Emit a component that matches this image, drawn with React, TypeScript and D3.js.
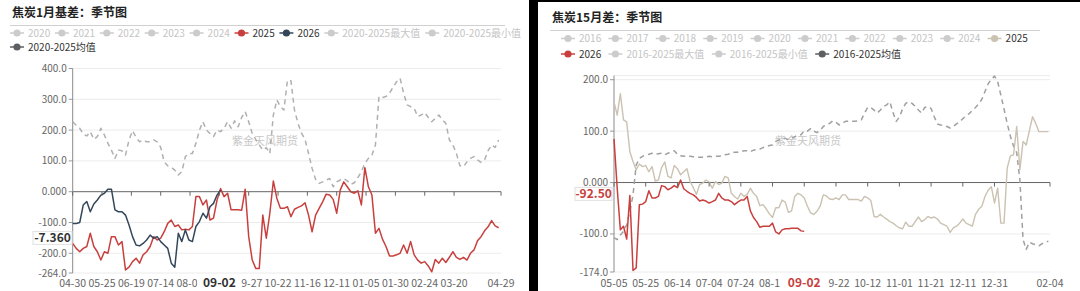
import React from 'react';
import * as d3 from 'd3';

// ---------------- DATA ----------------
// Left panel: 焦炭1月基差 (sampled every 3 days starting 04-30)
const leftStep = 3;
const left2025 = [
  -168, -184, -195, -184, -178, -135, -178, -195, -222, -195, -200, -146, -146, -173, -162, -254, -245, -227, -216, -232,
  -205, -195, -178, -146, -157, -151, -130, -103, -92, -113, -108, -124, -122, -124, -113, -16, -16, -43, -27, -92,
  -86, -27, 10, -16, -5, -59, -59, -59, -60, 8, -146, -222, -249, -249, -76, -151, -70, 35, -22, -54,
  -54, -49, -81, -57, -51, -46, -36, -76, -130, -76, -54, -33, -8, -11, -25, -70, 5, 32, 16, 0,
  -5, 3, -43, 78, 16, -11, -135, -119, -154, -178, -209, -209, -205, -200, -173, -200, -162, -205, -222, -232,
  -227, -241, -260, -220, -232, -216, -230, -213, -195, -213, -220, -213, -222, -200, -189, -159, -146, -127, -114, -94,
  -111, -117,
];
const left2026 = [
  -103, -103, -100, -43, -32, -65, -40, -27, -11, -5, 8, 8, -59, -65, -65, -76, -108, -146, -173, -176,
  -168, -157, -141, -151, -146, -162, -173, -184, -232, -245, -135, -162, -124, -157, -162, -113, -97, -70, -86, -49,
  -38, -11, 5,
];
const leftMean = [
  227, 216, 206, 187, 181, 195, 170, 179, 206, 184, 157, 135, 108, 135, 133, 119, 168, 198, 176, 162,
  168, 162, 162, 168, 162, 144, 97, 84, 79, 70, 54, 65, 114, 124, 124, 157, 200, 227, 200, 189,
  179, 200, 195, 206, 227, 206, 230, 211, 241, 260, 227, 189, 170, 152, 135, 143, 124, 249, 298, 276,
  265, 362, 360, 265, 222, 190, 170, 124, 76, 40, 27, 32, 38, 43, 16, 32, 38, 43, 35, 24,
  29, 46, 65, 92, 108, 119, 152, 309, 306, 309, 320, 339, 357, 368, 320, 282, 276, 271, 244, 249,
  257, 241, 227, 238, 249, 233, 222, 168, 152, 124, 84, 81, 97, 108, 114, 103, 95, 103, 133, 152,
  144, 168,
];
const leftTickDays = [0, 25, 50, 75, 100, 125, 150, 175, 200, 225, 250, 275, 300, 325, 365];
const leftTickLabels = ['04-30', '05-25', '06-19', '07-14', '08-08', '09-02', '09-27', '10-22', '11-16', '12-11', '01-05', '01-30', '02-24', '03-20', '04-29'];
const leftYTicks = [400, 300, 200, 100, 0, -100, -200, -264];
const leftYLabels = ['400.0', '300.0', '200.0', '100.0', '0.000', '-100.0', '-200.0', '-264.0'];
const leftDomain = [-264, 400];
const leftDays = 365;
const leftHighlightDay = 125;
const leftHighlightLabel = '09-02';
const leftPointerValue = -150;
const leftPointerLabel = '-7.360';
const leftLegendNames = ['2020', '2021', '2022', '2023', '2024', '2025', '2026', '2020-2025最大值', '2020-2025最小值', '2020-2025均值'];

// Right panel: 焦炭15月差 (sampled every 2 days starting 05-05)
const rightStep = 2;
const right2025 = [
  157, 131, 173, 122, 118, 60, 41, 25, 36, 31, 33, 21, 31, 3, 5, 29, 40, 12, 9, 33,
  27, 15, 21, 27, 2, -10, -23, -4, -1, 5, 1, -11, 2, -4, -1, 12, 9, -21, -27, -32,
  -21, -27, -23, -11, -21, -27, -45, -43, -51, -61, -68, -49, -49, -34, -38, -58, -55, -27, -21, -24,
  -30, -46, -59, -62, -56, -46, -24, -26, -32, -33, -30, -33, -24, -24, -33, -33, -33, -33, -36, -27,
  -30, -35, -66, -67, -62, -67, -71, -76, -79, -84, -88, -90, -77, -85, -85, -76, -67, -76, -72, -66,
  -69, -67, -71, -79, -82, -85, -97, -88, -85, -79, -71, -79, -82, -85, -62, -52, -46, -27, -15, -8,
  -40, -11, -79, -79, 28, 52, 54, 109, 25, 80, 73, 101, 128, 115, 99, 99, 99, 99,
];
const right2026 = [
  85, -10, -92, -85, -110, -25, -171, -166, -43, -42, -37, -16, -30, -30, -27, -6, -8, -14, -11, -6,
  -10, 5, -12, -17, -21, -24, -29, -36, -34, -36, -40, -37, -34, -21, -30, -34, -34, -37, -43, -38,
  -34, -34, -27, -55, -68, -76, -87, -85, -85, -85, -79, -96, -100, -92, -90, -90, -89, -89, -89, -94,
  -95,
];
const rightMean = [
  -107, -111, -102, -95, -82, -56, -24, 34, 47, 51, 54, 55, 57, 55, 56, 57, 54, 57, 59, 62,
  55, 52, 51, 52, 51, 50, 49, 49, 49, 50, 51, 50, 51, 51, 52, 54, 55, 57, 59, 59,
  60, 62, 62, 60, 63, 64, 65, 68, 70, 72, 73, 80, 83, 85, 86, 83, 86, 89, 93, 93,
  101, 100, 105, 100, 97, 101, 109, 113, 115, 120, 117, 112, 115, 119, 119, 119, 119, 120, 122, 135,
  146, 146, 141, 135, 141, 148, 151, 157, 136, 119, 127, 143, 154, 157, 154, 148, 141, 135, 146, 148,
  144, 128, 114, 112, 111, 109, 106, 109, 114, 118, 124, 130, 134, 140, 146, 153, 162, 177, 192, 201,
  207, 196, 170, 143, 115, 90, 71, 58, 5, -111, -130, -116, -119, -121, -123, -119, -116, -114,
];
const rightTickDays = [0, 20, 40, 60, 80, 100, 120, 140, 160, 180, 200, 220, 240, 275];
const rightTickLabels = ['05-05', '05-25', '06-14', '07-04', '07-24', '08-13', '09-02', '09-22', '10-12', '11-01', '11-21', '12-11', '12-31', '02-04'];
const rightYTicks = [208, 200, 100, 0, -100, -174];
const rightYLabels = ['', '200.0', '100.0', '0.000', '-100.0', '-174.0'];
const rightDomain = [-174, 208];
const rightDays = 275;
const rightHighlightDay = 120;
const rightHighlightLabel = '09-02';
const rightPointerValue = -22;
const rightPointerLabel = '-92.50';
const rightLegendNames = ['2016', '2017', '2018', '2019', '2020', '2021', '2022', '2023', '2024', '2025', '2026', '2016-2025最大值', '2016-2025最小值', '2016-2025均值'];

// ---------------- STYLE ----------------
const RED = '#c8403e';
const NAVY = '#34475a';
const TAN = '#cbc2b1';
const GREY = '#cccccc';
const MEANDARK = '#5d5f63';
const FONT = '"Noto Sans CJK SC", "Noto Sans", sans-serif';

const textW = (s: string, size: number) => {
  let w = 0;
  for (const ch of s) {
    if (/[0-9]/.test(ch)) w += size * 0.56;
    else if (ch === '-') w += size * 0.36;
    else if (ch === '.') w += size * 0.28;
    else w += size;
  }
  return w;
};

type Series = { values: number[]; color: string; dashed?: boolean; width?: number };

type PanelProps = {
  title: string;
  titleX: number;
  titleY: number;
  sepY: number;
  sepX1: number;
  legendRows: { names: string[]; colors: string[]; active: boolean[] }[];
  legendX: number;
  legendYs: number[];
  legendGap: number;
  x0: number;
  x1: number;
  yTop: number;
  yBot: number;
  domain: number[];
  days: number;
  step: number;
  series: Series[];
  yTicks: number[];
  yLabels: string[];
  xTickDays: number[];
  xTickLabels: string[];
  hlDay: number;
  hlLabel: string;
  hlColor: string;
  hlBoxW: number;
  ptrValue: number;
  ptrLabel: string;
  ptrColor: string;
  ptrBox: number[];
  watermarkX: number;
};

function Panel(p: PanelProps) {
  const x = d3.scaleLinear().domain([0, p.days]).range([p.x0, p.x1]);
  const y = d3.scaleLinear().domain(p.domain).range([p.yBot, p.yTop]);
  const line = d3
    .line<number>()
    .x((_, i) => x(i * p.step))
    .y((d) => y(d));
  const legendItems: JSX.Element[] = [];
  p.legendRows.forEach((row, r) => {
    let cx = p.legendX;
    row.names.forEach((n, i) => {
      const col = row.active[i] ? row.colors[i] : GREY;
      const ly = p.legendYs[r];
      legendItems.push(
        <g key={`lg-${r}-${i}`}>
          <line x1={cx} x2={cx + 14} y1={ly} y2={ly} stroke={col} strokeWidth={1.5} />
          <circle cx={cx + 7} cy={ly} r={3.6} fill={col} />
          <text x={cx + 18} y={ly + 3.5} fontSize={10} fill={row.active[i] ? '#333' : '#c4c4c4'} fontFamily={FONT}>
            {n}
          </text>
        </g>
      );
      cx += 18 + textW(n, 10) + p.legendGap;
    });
  });
  const hx = x(p.hlDay);
  const py = y(p.ptrValue);
  const boxL = hx - p.hlBoxW / 2;
  const boxR = hx + p.hlBoxW / 2;
  const FS = 10.5;
  const TOL = 2;
  const LY = 286.5;
  // x labels: those partly hidden by the highlighted label are cut at the box edge
  const xLabels = p.xTickDays.map((d, i) => {
    const lbl = p.xTickLabels[i];
    const cx = x(d);
    if (d === p.hlDay) return null;
    const w = textW(lbl, FS);
    const l = cx - w / 2;
    const r = cx + w / 2;
    if (r > boxL && cx < hx) {
      let s = lbl;
      while (s.length > 1 && l + textW(s, FS) > boxL + TOL) s = s.slice(0, -1);
      return (
        <text key={`xl-${i}`} x={l} y={LY} fontSize={FS} fill="#666" textAnchor="start" fontFamily={FONT}>
          {s}
        </text>
      );
    }
    if (l < boxR && cx > hx) {
      let s = lbl;
      while (s.length > 1 && r - textW(s, FS) < boxR - TOL) s = s.slice(1);
      return (
        <text key={`xl-${i}`} x={r} y={LY} fontSize={FS} fill="#666" textAnchor="end" fontFamily={FONT}>
          {s}
        </text>
      );
    }
    return (
      <text key={`xl-${i}`} x={cx} y={LY} fontSize={FS} fill="#666" textAnchor="middle" fontFamily={FONT}>
        {lbl}
      </text>
    );
  });
  return (
    <g>
      <text x={p.titleX} y={p.titleY} fontSize={12} fontWeight="bold" fill="#222" fontFamily={FONT}>
        {p.title}
      </text>
      <line x1={p.titleX - 2} x2={p.sepX1} y1={p.sepY} y2={p.sepY} stroke="#d0d0d0" strokeWidth={1} />
      {legendItems}
      {/* grid */}
      {p.yTicks.map((t, i) => (
        <g key={`gy-${i}`}>
          <line
            x1={p.x0}
            x2={p.x1}
            y1={y(t)}
            y2={y(t)}
            stroke={t === 0 ? '#666' : '#ececec'}
            strokeWidth={1}
          />
          {p.yLabels[i] !== '' && (
            <>
              <line x1={p.x0 - 4} x2={p.x0} y1={y(t)} y2={y(t)} stroke="#999" />
              <text x={p.x0 - 6} y={y(t) + 3.5} fontSize={10} fill="#666" textAnchor="end" fontFamily={FONT}>
                {p.yLabels[i]}
              </text>
            </>
          )}
        </g>
      ))}
      <line x1={p.x0} x2={p.x0} y1={p.yTop} y2={p.yBot} stroke="#8a8a8a" strokeWidth={1} />
      {/* watermark */}
      <text x={p.watermarkX} y={145} fontSize={11} fill="#c8c8c8" textAnchor="middle" fontFamily={FONT}>
        紫金天风期货
      </text>
      {/* series */}
      {p.series.map((s, i) => (
        <path
          key={`s-${i}`}
          d={line(s.values) || ''}
          fill="none"
          stroke={s.color}
          strokeWidth={s.width || 1.5}
          strokeDasharray={s.dashed ? '5,4' : undefined}
          strokeLinejoin="round"
        />
      ))}
      {/* x ticks on zero line */}
      {p.xTickDays.map((d, i) => (
        <line key={`xt-${i}`} x1={x(d)} x2={x(d)} y1={y(0)} y2={y(0) + 4} stroke="#666" />
      ))}
      {xLabels}
      {/* highlight x label */}
      <rect x={boxL} y={274} width={p.hlBoxW} height={16} fill="#fff" />
      <text x={hx} y={287} fontSize={12} fontWeight="bold" fill={p.hlColor} textAnchor="middle" fontFamily={FONT}>
        {p.hlLabel}
      </text>
      {/* pointer y label */}
      <rect
        x={p.ptrBox[0]}
        y={py - p.ptrBox[2] / 2}
        width={p.ptrBox[1]}
        height={p.ptrBox[2]}
        fill="#fff"
        stroke="#e0e0e0"
      />
      <text
        x={p.ptrBox[0] + p.ptrBox[1] / 2}
        y={py + 4.5}
        fontSize={12}
        fontWeight="bold"
        fill={p.ptrColor}
        textAnchor="middle"
        fontFamily={FONT}
      >
        {p.ptrLabel}
      </text>
    </g>
  );
}

export default function App() {
  const leftColors = [GREY, GREY, GREY, GREY, GREY, RED, NAVY, GREY, GREY, MEANDARK];
  const leftActive = leftLegendNames.map((_, i) => i === 5 || i === 6 || i === 9);
  const rightColors = [GREY, GREY, GREY, GREY, GREY, GREY, GREY, GREY, GREY, TAN, RED, GREY, GREY, MEANDARK];
  const rightActive = rightLegendNames.map((_, i) => i === 9 || i === 10 || i === 13);
  return (
    <svg
      width={1080}
      height={291}
      style={{ position: 'absolute', left: 0, top: 0, background: '#fff', display: 'block' }}
    >
      <rect x={0} y={0} width={1080} height={291} fill="#fff" />
      <Panel
        title="焦炭1月基差：季节图"
        titleX={12}
        titleY={17}
        sepY={25.5}
        sepX1={505}
        legendRows={[
          { names: leftLegendNames.slice(0, 9), colors: leftColors.slice(0, 9), active: leftActive.slice(0, 9) },
          { names: leftLegendNames.slice(9), colors: leftColors.slice(9), active: leftActive.slice(9) },
        ]}
        legendX={10}
        legendYs={[33, 47]}
        legendGap={4.5}
        x0={72.7}
        x1={501}
        yTop={68.5}
        yBot={273}
        domain={leftDomain}
        days={leftDays}
        step={leftStep}
        series={[
          { values: leftMean, color: '#b0b0b0', dashed: true },
          { values: left2025, color: RED },
          { values: left2026, color: NAVY },
        ]}
        yTicks={leftYTicks}
        yLabels={leftYLabels}
        xTickDays={leftTickDays}
        xTickLabels={leftTickLabels}
        hlDay={leftHighlightDay}
        hlLabel={leftHighlightLabel}
        hlColor="#333"
        hlBoxW={44}
        ptrValue={leftPointerValue}
        ptrLabel={leftPointerLabel}
        ptrColor="#333"
        ptrBox={[33, 39, 13]}
        watermarkX={265}
      />
      <Panel
        title="焦炭15月差：季节图"
        titleX={552}
        titleY={22}
        sepY={30.5}
        sepX1={1040}
        legendRows={[
          { names: rightLegendNames.slice(0, 10), colors: rightColors.slice(0, 10), active: rightActive.slice(0, 10) },
          { names: rightLegendNames.slice(10), colors: rightColors.slice(10), active: rightActive.slice(10) },
        ]}
        legendX={561}
        legendYs={[38.5, 54]}
        legendGap={7}
        x0={614}
        x1={1050}
        yTop={75.6}
        yBot={272}
        domain={rightDomain}
        days={rightDays}
        step={rightStep}
        series={[
          { values: rightMean, color: '#a0a0a0', dashed: true },
          { values: right2025, color: TAN, width: 1.4 },
          { values: right2026, color: RED },
        ]}
        yTicks={rightYTicks}
        yLabels={rightYLabels}
        xTickDays={rightTickDays}
        xTickLabels={rightTickLabels}
        hlDay={rightHighlightDay}
        hlLabel={rightHighlightLabel}
        hlColor={RED}
        hlBoxW={42}
        ptrValue={rightPointerValue}
        ptrLabel={rightPointerLabel}
        ptrColor={RED}
        ptrBox={[575, 37, 13]}
        watermarkX={808}
      />
      <rect x={529} y={0} width={9} height={291} fill="#000" />
      <rect x={538} y={0} width={542} height={2} fill="#000" />
    </svg>
  );
}
